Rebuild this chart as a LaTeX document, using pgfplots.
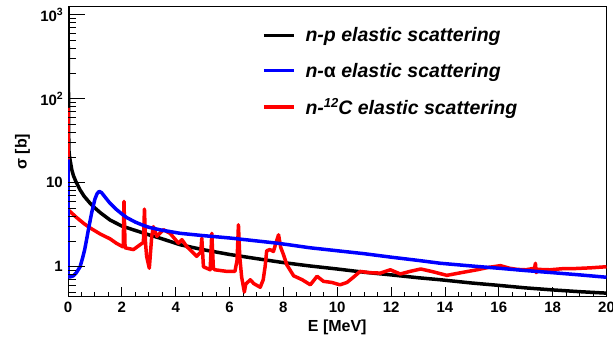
\documentclass[border=0pt]{standalone}
\usepackage{fontspec}
\setmainfont{Liberation Sans}
\usepackage{pgfplots}
\pgfplotsset{compat=1.18}
\newcommand{\tsup}[1]{\raisebox{0.42em}{\fontsize{10.5}{10.5}\selectfont #1}}
\newcommand{\lsup}[1]{\raisebox{0.40em}{\fontsize{13}{13}\selectfont #1}}
\begin{document}
\begin{tikzpicture}
\begin{axis}[width=538.5pt,height=290pt,scale only axis,at={(0,0)},anchor=south west,
  xmin=0,xmax=20,ymode=log,ymin=0.44,ymax=1245,
  axis line style={line width=1pt},
  tick style={line width=0.9pt,black},
  tick align=inside,
  tick label style={font=\fontsize{15}{15}\selectfont\bfseries},
  xtick={0,2,...,20}, xticklabels={0,2,4,6,8,10,12,14,16,18,20},
  minor x tick num=3, xtick pos=bottom,
  ytick=\empty,
  major tick length=9.3pt, minor tick length=4.7pt,
  xticklabel style={anchor=center,yshift=-11pt,inner sep=0pt},
  xlabel={E [MeV]},
  every axis x label/.style={at={(rel axis cs:0.5,0)},yshift=-31pt,anchor=center,font=\fontsize{16}{16}\selectfont\bfseries},
  legend image code/.code={\draw[#1,line width=3.5pt] (0pt,0pt) -- (30pt,0pt);},
  legend style={draw=none,fill=none,at={(rel axis cs:0.360,0.928)},anchor=north west,
     inner sep=0pt,row sep=19.5pt,font=\fontsize{19.5}{19.5}\selectfont\bfseries\itshape,
     nodes={inner sep=0pt},
     /tikz/every odd column/.append style={column sep=10pt}},
  legend cell align=left,
]
\addplot[black,line width=3.5pt,line join=round,forget plot] coordinates {
(0,1500)(0.03,25)(0.06,20)(0.1,17)(0.14,14.3)(0.2,12.2)(0.3,10.2)(0.45,8.2)(0.6,6.9)(0.8,5.8)(0.94,5.2)(1.2,4.4)(1.56,3.6)(2.0,3.05)(2.43,2.75)(3.0,2.4)(3.42,2.19)(4.16,1.83)(5,1.6)(6,1.4)(7,1.25)(8,1.12)(9,1.02)(10,0.94)(11,0.86)(12,0.8)(13,0.74)(13.83,0.70)(15,0.64)(16,0.6)(17,0.56)(18,0.53)(19,0.505)(20,0.485)
};
\addplot[red,line width=3.5pt,line join=round,forget plot] coordinates {
(0,78)(0,4.77)(0.01,4.75)(0.3,3.9)(0.6,3.25)(0.82,2.9)(1.2,2.45)(1.56,2.15)(1.8,1.9)(2.05,1.72)(2.08,6.0)(2.12,1.68)(2.43,1.6)(2.68,1.83)(2.8,1.95)(2.84,4.86)(2.88,1.9)(2.92,1.33)(3.02,0.96)(3.11,2.3)(3.17,3.0)(3.3,2.3)(3.54,2.76)(3.79,2.5)(4.1,1.91)(4.23,2.1)(4.41,1.74)(4.78,1.33)(4.93,1.5)(4.97,2.19)(5.03,1.0)(5.28,0.92)(5.34,2.5)(5.4,0.95)(5.46,0.92)(5.9,0.88)(6.2,0.88)(6.28,1.2)(6.33,3.16)(6.38,1.3)(6.45,0.75)(6.55,0.5)(6.6,0.62)(6.77,0.70)(6.9,0.63)(7.14,0.57)(7.25,0.7)(7.32,1.0)(7.38,1.55)(7.5,1.6)(7.63,1.52)(7.72,1.9)(7.82,2.4)(7.9,1.7)(8.0,1.4)(8.13,1.05)(8.38,0.78)(8.7,0.7)(9.0,0.61)(9.25,0.77)(9.49,0.67)(9.8,0.65)(10.1,0.61)(10.36,0.65)(10.6,0.75)(10.85,0.88)(11.2,0.85)(11.6,0.84)(11.97,0.92)(12.34,0.82)(12.7,0.88)(13.1,0.94)(13.5,0.88)(14.07,0.79)(14.6,0.85)(15.19,0.92)(15.6,0.98)(16.06,1.03)(16.4,0.96)(16.68,0.93)(17.0,0.92)(17.33,0.96)(17.36,1.1)(17.39,0.85)(17.45,0.93)(17.9,0.92)(18.4,0.95)(18.78,0.95)(19.4,0.97)(20,1.0)
};
\addplot[blue,line width=3.5pt,line join=round,forget plot] coordinates {
(0,19)(0.001,0.76)(0.1,0.76)(0.2,0.78)(0.3,0.84)(0.45,1.0)(0.55,1.3)(0.62,1.6)(0.69,2.1)(0.77,2.9)(0.88,4.4)(1.0,6.4)(1.08,7.4)(1.16,7.9)(1.25,7.6)(1.4,6.6)(1.56,5.7)(1.8,4.8)(2.0,4.25)(2.18,3.85)(2.5,3.4)(2.75,3.15)(3.0,2.95)(3.42,2.75)(4.16,2.5)(5,2.35)(6,2.2)(7,2.03)(7.82,1.9)(9,1.68)(10,1.55)(11,1.43)(12,1.3)(13,1.19)(13.83,1.1)(15,1.02)(16,0.96)(17,0.9)(18,0.85)(19,0.8)(20,0.75)
};
\addlegendimage{black}
\addlegendentry{n-p elastic scattering}
\addlegendimage{blue}
\addlegendentry{n-{\upshape α} elastic scattering}
\addlegendimage{red}
\addlegendentry{n-\lsup{12}C elastic scattering}
\end{axis}
\begin{axis}[width=538.5pt,height=290pt,scale only axis,at={(0,0)},anchor=south west,
  xmin=0,xmax=20,ymode=log,ymin=0.44,ymax=1245,
  tick style={line width=0.9pt,black},
  tick align=inside,
  tick label style={font=\fontsize{15}{15}\selectfont\bfseries},
  xtick=\empty,
  ytick={1,10,100,1000}, yticklabels={1,10,10\tsup{2},10\tsup{3}},
  minor ytick={0.5,0.6,0.7,0.8,0.9,2,3,4,5,6,7,8,9,20,30,40,50,60,70,80,90,200,300,400,500,600,700,800,900},
  ytick pos=left,
  axis line style={draw=none},
  major tick length=16.7pt, minor tick length=8.3pt,
  yticklabel style={anchor=east,inner sep=0pt,xshift=-5pt},
  ylabel={σ [b]},
  every axis y label/.style={at={(rel axis cs:0,0.5)},xshift=-45.5pt,rotate=90,anchor=center,font=\fontsize{16}{16}\selectfont\bfseries},
]
\end{axis}
\pgfresetboundingbox
\useasboundingbox (-68pt,-42.3pt) rectangle (545pt,296.7pt);
\end{tikzpicture}
\end{document}
